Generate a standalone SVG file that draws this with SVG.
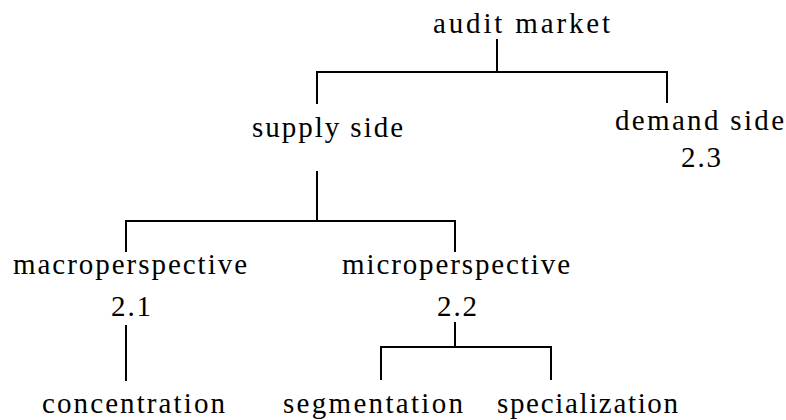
<svg xmlns="http://www.w3.org/2000/svg" width="786" height="420" viewBox="0 0 786 420">
<style>
.t { font-family: 'Liberation Serif', 'Times New Roman', Times, 'DejaVu Serif', 'Noto Serif', serif; font-size: 29px; fill: #000; }
.c line { stroke: #000; stroke-width: 2; fill: none; }
</style>
<rect width="786" height="420" fill="#fff"/>
<g id="connectors" class="c">
<line x1="497" y1="39" x2="497" y2="72"/>
<line x1="316" y1="72" x2="668" y2="72"/>
<line x1="317" y1="72" x2="317" y2="104"/>
<line x1="667" y1="72" x2="667" y2="103"/>
<line x1="317" y1="171" x2="317" y2="221"/>
<line x1="125" y1="221" x2="456" y2="221"/>
<line x1="126" y1="221" x2="126" y2="252"/>
<line x1="455" y1="221" x2="455" y2="252"/>
<line x1="126" y1="325" x2="126" y2="381"/>
<line x1="455" y1="322" x2="455" y2="347"/>
<line x1="380" y1="347" x2="552" y2="347"/>
<line x1="381" y1="347" x2="381" y2="380"/>
<line x1="551" y1="347" x2="551" y2="380"/>
</g>
<g class="t" font-family="Liberation Serif, Times New Roman, serif">
<g id="audit-market"><text x="433" y="33" textLength="177" lengthAdjust="spacing">audit market</text></g>
<g id="supply-side"><text x="252" y="137" textLength="151" lengthAdjust="spacing">supply side</text></g>
<g id="demand-side"><text x="615" y="130" textLength="169" lengthAdjust="spacing">demand side</text><text x="681" y="167" textLength="40" lengthAdjust="spacing">2.3</text></g>
<g id="macroperspective"><text x="13" y="274" textLength="234" lengthAdjust="spacing">macroperspective</text><text x="111" y="316" textLength="40" lengthAdjust="spacing">2.1</text></g>
<g id="microperspective"><text x="342" y="274" textLength="228" lengthAdjust="spacing">microperspective</text><text x="437" y="316" textLength="40" lengthAdjust="spacing">2.2</text></g>
<g id="concentration"><text x="42" y="413" textLength="183" lengthAdjust="spacing">concentration</text></g>
<g id="segmentation"><text x="283" y="413" textLength="180" lengthAdjust="spacing">segmentation</text></g>
<g id="specialization"><text x="497" y="413" textLength="181" lengthAdjust="spacing">specialization</text></g>
</g>
</svg>
